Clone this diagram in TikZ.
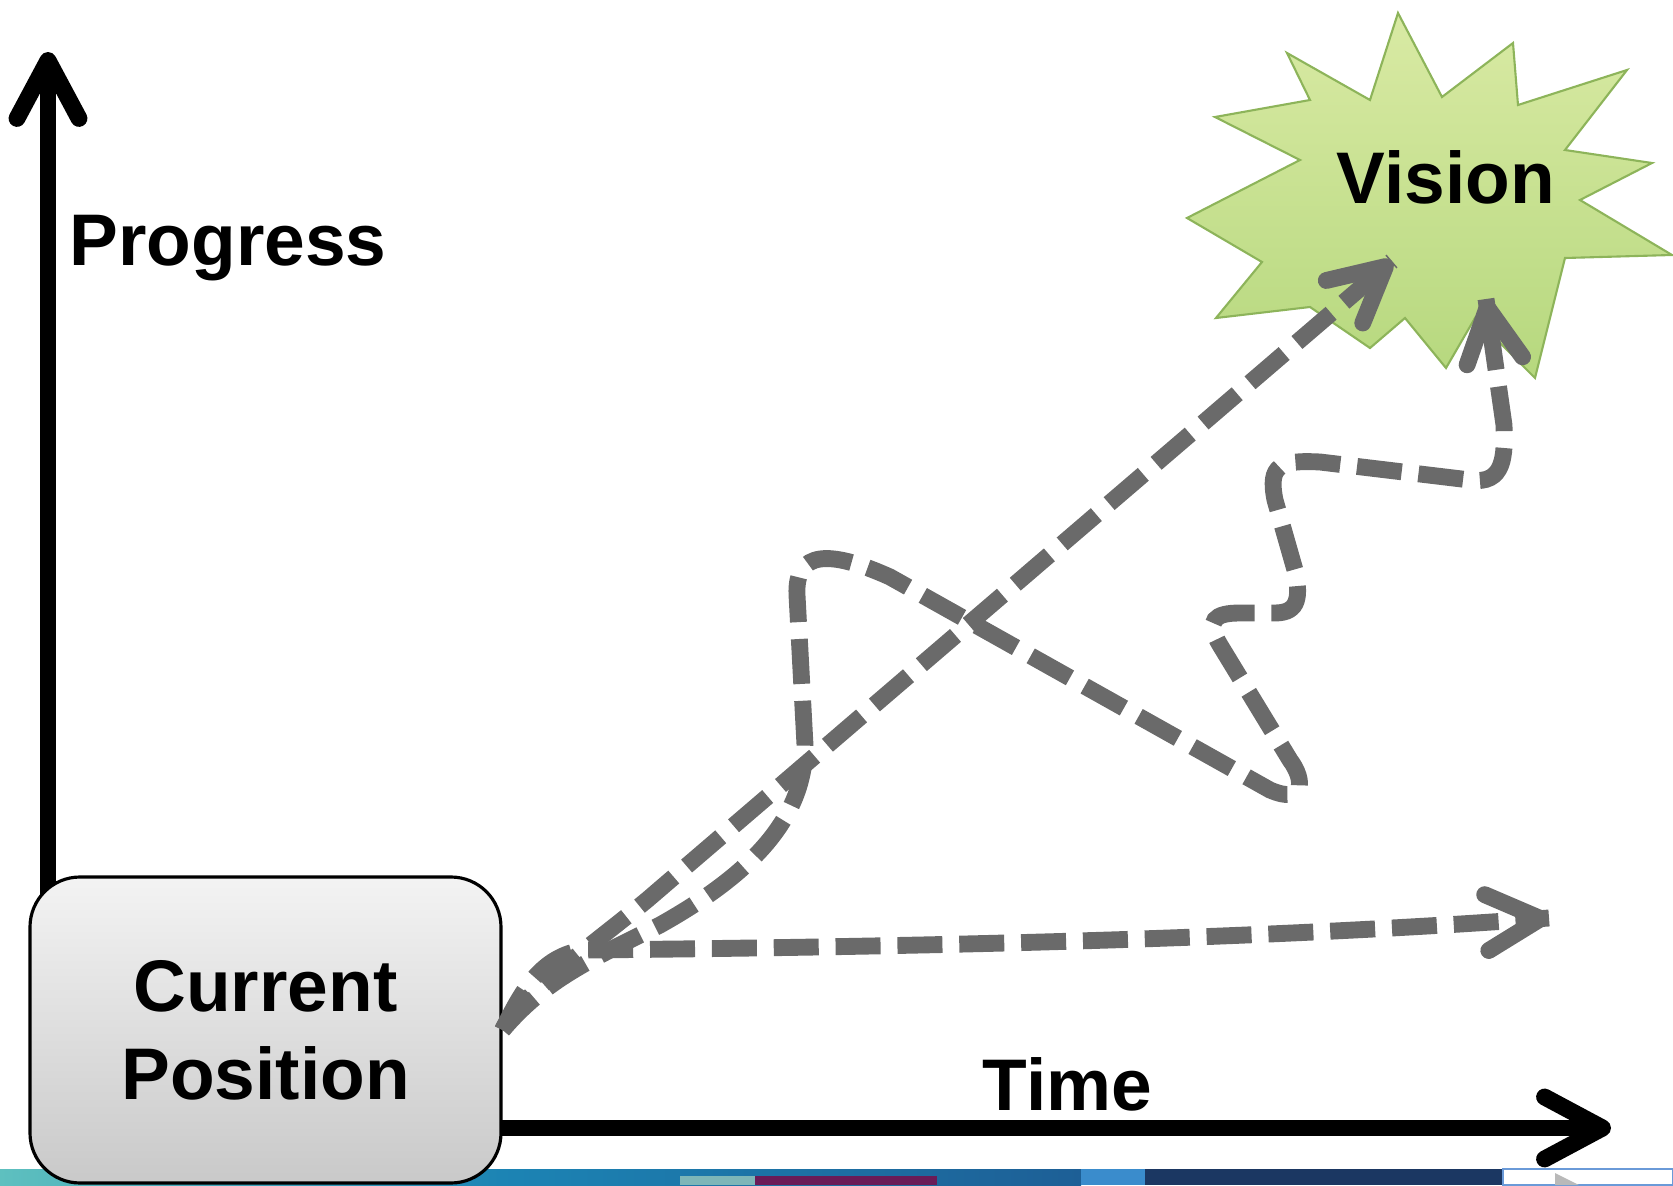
\documentclass[tikz,border=0pt]{standalone}
\usepackage{fontspec}
\setmainfont{Liberation Sans}
\usepackage{tikz}
\usetikzlibrary{arrows.meta, calc, decorations.markings}
\definecolor{Trailcolour}{HTML}{6A6A6A}
\definecolor{Startopcolour}{HTML}{D9EAA4}
\definecolor{Starbotcolour}{HTML}{B6D87E}
\definecolor{Staredgecolour}{HTML}{8DB45A}
\definecolor{Boxtopcolour}{HTML}{F3F3F3}
\definecolor{Boxbotcolour}{HTML}{C9C9C9}
\definecolor{Tealcolour}{HTML}{5EC0BF}
\definecolor{Bluecolour}{HTML}{1C84B4}
\definecolor{Deepcolour}{HTML}{1D5F96}
\definecolor{Navycolour}{HTML}{1B3762}
\definecolor{Plumcolour}{HTML}{6A1B57}
\definecolor{Sagecolour}{HTML}{7DB6B8}
\definecolor{Logocolour}{HTML}{3A8CCC}
\definecolor{Framecolour}{HTML}{6A9AD8}

\tikzset{
  axisline/.style={line width=4.8pt, -{Straight Barb[length=5.8mm, width=6.2mm, round]}},
  trail/.style={Trailcolour, line width=4.8pt, dash pattern=on 12.8pt off 4.8pt,
    postaction={decorate, decoration={markings, mark=at position 1 with
      {\pgfsetdash{}{0pt}\arrow{Straight Barb[length=5.4mm, width=5.6mm, round]}}}}},
  bigtext/.style={font=\bfseries\fontsize{20.8}{25}\selectfont, inner sep=0pt},
  posbox/.style={bigtext, draw=black, line width=0.9pt, rounded corners=0.5cm,
    top color=Boxtopcolour, bottom color=Boxbotcolour,
    minimum width=4.71cm, minimum height=3.06cm, align=center},
}

\begin{document}
\begin{tikzpicture}
        \useasboundingbox (0,0) rectangle (16.73,11.85);
        %striscia in basso
        \shade[left color=Tealcolour, right color=Bluecolour] (0,0) rectangle (5.0,0.16);
        \shade[left color=Bluecolour, right color=Deepcolour] (5.0,0) rectangle (10.81,0.16);
        \fill[Navycolour] (11.45,0) rectangle (15.03,0.16);
        \fill[Sagecolour] (6.80,0) rectangle (7.55,0.09);
        \fill[Plumcolour] (7.55,0) rectangle (9.37,0.09);
        \fill[Logocolour] (10.81,0) rectangle (11.45,0.16);
        \filldraw[fill=white, draw=Framecolour, line width=0.8pt] (15.03,0) rectangle (16.73,0.16);
        \fill[gray!55] (15.55,0.12) -- (15.79,0) -- (15.55,0) -- cycle;

        %assi
        \coordinate (origin) at (0.48,0.57);
        \coordinate (ytop) at (0.48,11.33);
        \coordinate (xend) at (16.11,0.57);
        \draw[axisline] (origin) -- (ytop);
        \draw[axisline] (origin) -- (xend);
        \node[bigtext, anchor=base west] (progress) at (0.69,9.20) {Progress};
        \node[bigtext, anchor=base west] (time) at (9.82,0.75) {Time};

        %posizione attuale
        \node[posbox] (current) at (2.655,1.55) {Current\\Position};

        %stella
        \shadedraw[top color=Startopcolour, bottom color=Starbotcolour, draw=Staredgecolour, line width=0.6pt]
        (13.98,11.72) -- (14.42,10.88) -- (15.13,11.42) -- (15.18,10.80) -- (16.27,11.15)
        -- (15.65,10.35) -- (16.52,10.22) -- (15.80,9.85) -- (16.72,9.30) -- (15.65,9.27)
        -- (15.35,8.07) -- (14.75,8.67) -- (14.46,8.17) -- (14.05,8.67) -- (13.70,8.37)
        -- (13.10,8.78) -- (12.16,8.67) -- (12.62,9.23) -- (11.87,9.67) -- (13.00,10.25)
        -- (12.15,10.68) -- (13.10,10.85) -- (12.87,11.32) -- (13.70,10.85) -- cycle;
        \node[bigtext, anchor=base west] (vision) at (13.36,9.82) {Vision};

        %percorsi tratteggiati
        \coordinate (tipA) at (13.92,9.24);
        \coordinate (tipB) at (14.86,8.86);
        \coordinate (tipC) at (15.49,2.67);
        %dritto
        \draw[trail] (current.east) .. controls (5.15,1.85) and (5.95,2.42) .. (6.47,2.85) -- (tipA);
        %orizzontale
        \draw[trail] (current.east) .. controls (5.2,1.9) and (5.4,2.3) .. (5.85,2.35)
        .. controls (9,2.38) and (12.5,2.45) .. (tipC);
        %tortuoso
        \draw[trail] (current.east) .. controls (5.45,2.05) and (5.9,2.25) .. (6.6,2.6)
        .. controls (7.4,3.05) and (8.05,3.6) .. (8.05,4.4)
        -- (7.97,5.9)
        .. controls (7.95,6.35) and (8.3,6.35) .. (8.9,6.08)
        -- (12.7,3.95)
        .. controls (13.05,3.8) and (13.05,4.05) .. (12.9,4.25)
        -- (12.2,5.4)
        .. controls (12.05,5.65) and (12.15,5.72) .. (12.4,5.72)
        -- (12.75,5.72)
        .. controls (13.0,5.72) and (13.0,5.9) .. (12.95,6.15)
        -- (12.75,6.85)
        .. controls (12.68,7.2) and (12.8,7.25) .. (13.2,7.23)
        -- (14.7,7.05)
        .. controls (15.05,7.0) and (15.05,7.3) .. (15.04,7.6)
        -- (tipB);
    \end{tikzpicture}
\end{document}
